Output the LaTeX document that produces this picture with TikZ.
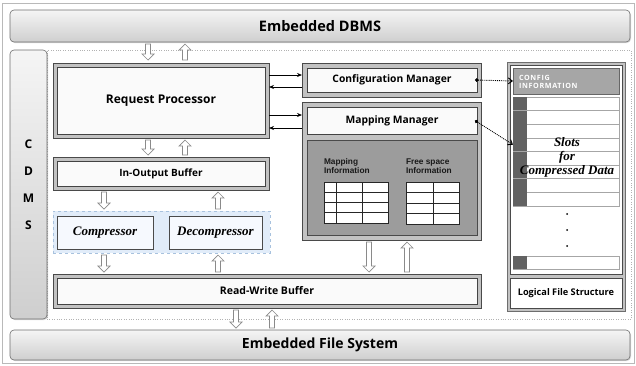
\documentclass[tikz,border=0pt]{standalone}
\usepackage{fontspec}
\setmainfont{Open Sans}
\newfontfamily\serifit{Liberation Serif}
\newfontfamily\arialf{Liberation Sans}
\newfontfamily\cfgfont{Open Sans}[LetterSpace=9]
\usetikzlibrary{calc,arrows.meta,shadows}
\definecolor{boxgray}{HTML}{C2C2C2}
\definecolor{boxline}{HTML}{4A4A4A}
\definecolor{innerfill}{HTML}{FAFAFA}
\definecolor{darkreg}{HTML}{9C9C9C}
\definecolor{grpfill}{HTML}{E1ECF9}
\definecolor{grpline}{HTML}{A8C2DE}
\definecolor{compfill}{HTML}{F6F9FE}
\definecolor{arrgray}{HTML}{8A8A8A}
\definecolor{slotdark}{HTML}{626262}
\definecolor{cfgfill}{HTML}{A6A6A6}
\tikzset{
  base/.style={inner sep=0pt, outer sep=0pt},
  bar/.style={base, draw=boxline!80, rounded corners=4pt, top color=gray!8, bottom color=gray!38,
     drop shadow={shadow xshift=1pt, shadow yshift=-1pt, opacity=0.3}, line width=0.6pt},
  outerbox/.style={base, draw=boxline, fill=boxgray, line width=0.8pt},
  innerbox/.style={base, draw=boxline!90!black, fill=innerfill, line width=0.8pt},
  hollowarr/.style={draw=arrgray, fill=white, line width=0.7pt, line join=miter},
  thinarrow/.style={line width=0.8pt, -{Stealth[length=5pt,width=4pt]}},
  dotarrow/.style={densely dotted, line width=0.9pt, {Circle[length=3.5pt]}-{Straight Barb[length=4pt,width=6pt]}},
  slot/.style={base, draw=gray!70, fill=white, line width=0.6pt, minimum width=106pt, minimum height=13.6pt},
  slotsq/.style={base, fill=slotdark, minimum width=14pt, minimum height=13.6pt},
  itl/.style={font=\serifit\bfseries\itshape\fontsize{13}{14}\selectfont, text=black}
}
% hollow block arrows: x, y of top, y of bottom
\newcommand\hdown[3]{\draw[hollowarr] (#1-2.5,#2) -- (#1+2.5,#2) -- (#1+2.5,#3-6) -- (#1+6,#3-6) -- (#1,#3) -- (#1-6,#3-6) -- (#1-2.5,#3-6) -- cycle;}
\newcommand\hup[3]{\draw[hollowarr] (#1,#2) -- (#1+6,#2+6) -- (#1+2.5,#2+6) -- (#1+2.5,#3) -- (#1-2.5,#3) -- (#1-2.5,#2+6) -- (#1-6,#2+6) -- cycle;}
\begin{document}
\begin{tikzpicture}[x=1pt,y=-1pt]
\useasboundingbox (0,0) rectangle (636,365);
\draw[gray!55, line width=0.6pt] (2,3) rectangle (634,363);

% bars
\node[bar, minimum width=620pt, minimum height=32pt] (dbms) at (320,26)
  {\bfseries\fontsize{14.5}{16}\selectfont Embedded DBMS};
\node[bar, minimum width=620pt, minimum height=30pt] (efs) at (320,345)
  {\bfseries\fontsize{14}{16}\selectfont Embedded File System};
\node[base, draw=gray!60, dotted, minimum width=584pt, minimum height=269pt] (frame) at (339,184.5) {};
\node[bar, minimum width=37pt, minimum height=269pt, align=center,
  font=\bfseries\fontsize{12}{27}\selectfont] (cdms) at (28.5,184.5) {C\\D\\M\\S};

% request processor
\node[outerbox, minimum width=216pt, minimum height=75pt] (rpo) at (161,100.5) {};
\node[innerbox, minimum width=208pt, minimum height=67pt, font=\bfseries\fontsize{12}{14}\selectfont] (rpi) at (161,100.5) {Request Processor};
% in-output buffer
\node[outerbox, minimum width=216pt, minimum height=33pt] (iobo) at (161,173.5) {};
\node[innerbox, minimum width=208pt, minimum height=25pt, font=\bfseries\fontsize{10}{12}\selectfont] (iobi) at (161,173.5) {In-Output Buffer};
% compressor group
\node[base, draw=grpline, dashed, fill=grpfill, minimum width=217pt, minimum height=42pt] (grp) at (161.5,232) {};
\node[base, draw=boxline, fill=compfill, line width=0.7pt, minimum width=96pt, minimum height=33pt, itl] (comp) at (105,232.5) {Compressor};
\node[base, draw=boxline, fill=compfill, line width=0.7pt, minimum width=93pt, minimum height=33pt, itl] (decomp) at (215.5,232.5) {Decompressor};
% read-write buffer
\node[outerbox, minimum width=428pt, minimum height=34pt] (rwbo) at (267,291) {};
\node[innerbox, minimum width=420pt, minimum height=26pt, font=\bfseries\fontsize{10.5}{12}\selectfont] (rwbi) at (267,291) {Read-Write Buffer};

% configuration manager
\node[outerbox, minimum width=179pt, minimum height=34pt] (cmo) at (391.5,80) {};
\node[innerbox, minimum width=170pt, minimum height=24pt, font=\bfseries\fontsize{10.3}{12}\selectfont] (cmi) at (392,80) {Configuration Manager};
% mapping manager
\node[outerbox, minimum width=179pt, minimum height=138pt] (mmo) at (391.5,171) {};
\node[innerbox, minimum width=170pt, minimum height=27pt, font=\bfseries\fontsize{10.3}{12}\selectfont] (mmt) at (392,120.5) {Mapping Manager};
\node[base, draw=boxline, fill=darkreg, line width=0.8pt, minimum width=170pt, minimum height=95pt] (mmd) at (392,187.5) {};
\node[base, anchor=north west, align=left, font=\arialf\bfseries\fontsize{8.3}{9}\selectfont, text=black!90] (mapinfo) at (324,158.5) {Mapping\\Information};
\node[base, anchor=north west, align=left, font=\arialf\bfseries\fontsize{8.3}{9}\selectfont, text=black!90] (freeinfo) at (406,158.5) {Free space\\Information};
% tables
\filldraw[fill=white, draw=black!85, line width=0.6pt] (324,182) rectangle (388,223);
\foreach \yy in {192.25,202.5,212.75} \draw[black!85, line width=0.6pt] (324,\yy) -- (388,\yy);
\foreach \xx in {336,362} \draw[black!85, line width=0.6pt] (\xx,182) -- (\xx,223);
\filldraw[fill=white, draw=black!85, line width=0.6pt] (406,182) rectangle (459,224);
\foreach \yy in {192.5,203,213.5} \draw[black!85, line width=0.6pt] (406,\yy) -- (459,\yy);
\draw[black!85, line width=0.6pt] (433,182) -- (433,224);

% logical file structure panel
\node[base, draw=boxline!80, fill=boxgray, line width=0.8pt, minimum width=118pt, minimum height=249pt] (lpo) at (566,186.5) {};
\node[base, draw=boxline, fill=white, line width=0.7pt, minimum width=112pt, minimum height=209pt] (lpu) at (566,169.5) {};
\node[base, draw=gray!80!black, fill=cfgfill, line width=0.6pt, minimum width=106pt, minimum height=26pt] (cfg) at (566,81) {};
\node[base, anchor=west, align=left, text=white, font=\cfgfont\bfseries\fontsize{7.2}{7.4}\selectfont] (cfgtxt) at (519,82) {CONFIG\\INFORMATION};
\foreach \i in {1,...,8}{
  \node[slot] (s\i) at (566,{97+(\i-0.5)*13.625}) {};
  \node[slotsq, anchor=west] (q\i) at (s\i.west) {};
}
\node[slot, minimum height=13pt] (s9) at (566,262.5) {};
\node[slotsq, anchor=west, minimum height=13pt] (q9) at (s9.west) {};
\foreach \yy in {214,230,246} \fill (567,\yy) circle (1pt);
\node[itl, align=center, font=\serifit\bfseries\itshape\fontsize{13}{14}\selectfont] (slotstxt) at (567,157) {Slots\\for\\Compressed Data};
\node[base, draw=boxline, fill=white, line width=0.7pt, minimum width=112pt, minimum height=30pt, font=\bfseries\fontsize{9.2}{10}\selectfont] (lfs) at (566,293) {Logical File Structure};

% thin arrows between RP and managers
\path (cmi.west) ++(0,-5) coordinate (c1);
\path (cmi.west) ++(0,7) coordinate (c2);
\path (mmt.west) ++(0,-5.5) coordinate (c3);
\path (mmt.west) ++(0,7.5) coordinate (c4);
\draw[thinarrow] (c1 -| rpo.east) -- (c1 -| cmo.west);
\draw[thinarrow] (c2 -| cmo.west) -- (c2 -| rpo.east);
\draw[thinarrow] (c3 -| rpo.east) -- (c3 -| mmo.west);
\draw[thinarrow] (c4 -| mmo.west) -- (c4 -| rpo.east);

% dotted arrows
\draw[dotarrow] ([xshift=-2pt]cmi.east) -- (cfg.west);
\draw[dotarrow] ([xshift=-2pt]mmt.east) -- (s4.west);

% hollow arrows
\hdown{148}{44}{60}
\hup{185}{44}{60}
\hdown{148}{140}{155}
\hup{185}{140}{155}
\hdown{104}{192}{209}
\hup{218}{192}{209}
\hdown{104}{255}{272}
\hup{218}{255}{272}
\hdown{369}{242}{272}
\hup{407}{242}{272}
\hdown{236}{310}{328}
\hup{272}{310}{328}
\end{tikzpicture}
\end{document}
